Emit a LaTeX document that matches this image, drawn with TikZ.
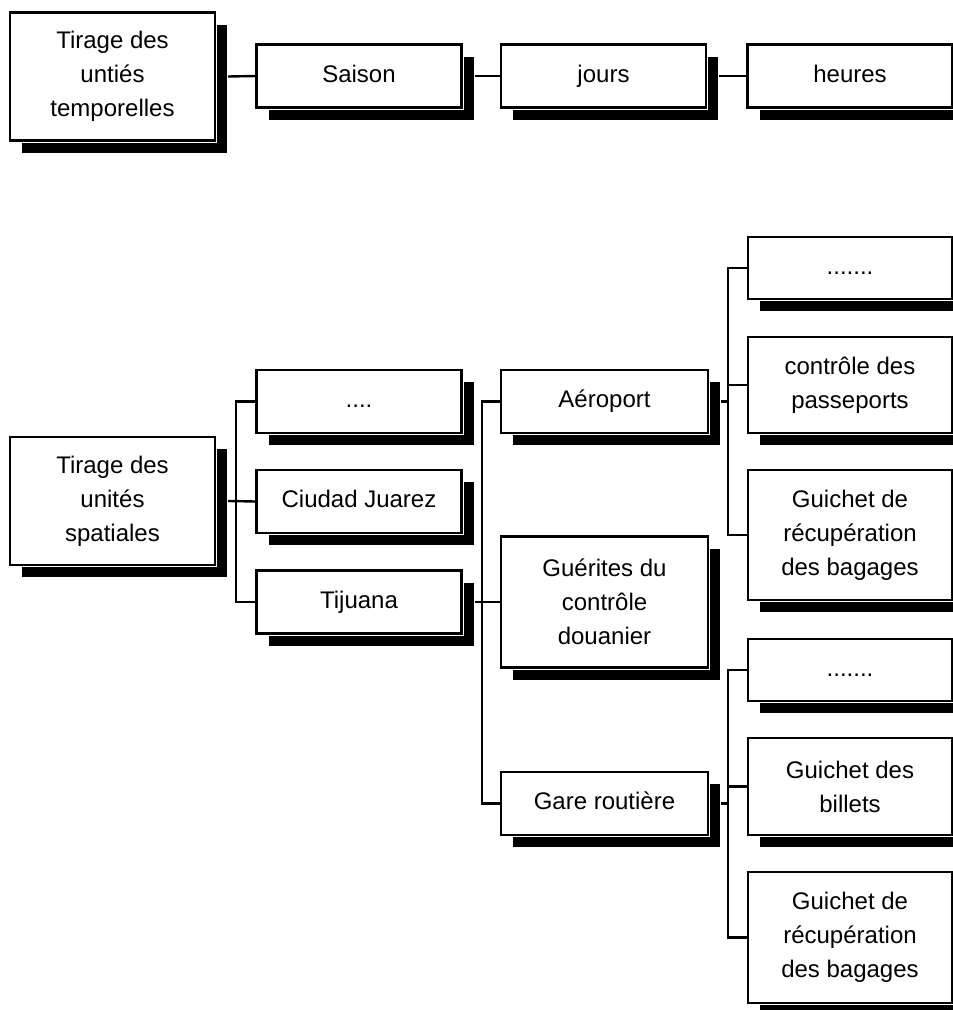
\documentclass[tikz,border=0pt]{standalone}
\usepackage{fontspec}
\setmainfont{Liberation Sans}
\usetikzlibrary{shadows}
\begin{document}
\begin{tikzpicture}[x=1pt,y=-1pt,
  box/.style={draw=black, line width=2.4pt, fill=white, inner sep=0pt, align=center,
    minimum width=205pt, minimum height=63pt,
    font=\fontsize{24}{34}\selectfont,
    general shadow={fill=black, shadow xshift=12pt, shadow yshift=-12pt},
    preaction={draw=white, line width=4.6pt}},
  single/.style={text height=17pt, text depth=5pt},
  link/.style={draw=black, line width=2.4pt}]
\useasboundingbox (0,0) rectangle (953,1010);
% top row
\node[box, minimum height=128pt] (T) at (112.5,76.5) {Tirage des\\untiés\\temporelles};
\node[box, single] (saison) at (359,76) {Saison};
\node[box, single] (jours) at (603.5,76) {jours};
\node[box, single] (heures) at (850,76) {heures};
% spatial tree
\node[box, minimum height=128pt] (S) at (112.5,501) {Tirage des\\unités\\spatiales};
\node[box, single] (d1) at (359,401.5) {....};
\node[box, single] (ciudad) at (359,501.5) {Ciudad Juarez};
\node[box, single] (tij) at (359,602) {Tijuana};
\node[box, single, minimum width=207pt] (aero) at (604.5,401.5) {Aéroport};
\node[box, minimum width=207pt, minimum height=131pt] (guer) at (604.5,602) {Guérites du\\contrôle\\douanier};
\node[box, single, minimum width=207pt] (gare) at (604.5,803.5) {Gare routière};
\node[box, single, minimum width=204pt, minimum height=62pt] (dA) at (850,268) {.......};
\node[box, minimum width=204pt, minimum height=96pt] (pass) at (850,385) {contrôle des\\passeports};
\node[box, minimum width=204pt, minimum height=130pt] (gA) at (850,535) {Guichet de\\récupération\\des bagages};
\node[box, single, minimum width=204pt, minimum height=62pt] (dB) at (850,670) {.......};
\node[box, minimum width=204pt, minimum height=97pt] (bill) at (850,786.5) {Guichet des\\billets};
\node[box, minimum width=204pt, minimum height=131pt] (gB) at (850,937.5) {Guichet de\\récupération\\des bagages};
% buses
\coordinate (bus1) at (236,0);
\coordinate (bus2) at (482,0);
\coordinate (bus3) at (728,0);
% top connectors
\draw[link] ([xshift=12pt]T.east) -- (saison.west);
\draw[link] ([xshift=12pt]saison.east) -- (jours.west);
\draw[link] ([xshift=12pt]jours.east) -- (heures.west);
% spatial connectors
\draw[link] ([xshift=12pt]S.east) -- (ciudad.west);
\draw[link] (d1.west) -- (d1.west -| bus1) |- (tij.west);
\draw[link] ([xshift=12pt]tij.east) -- (guer.west);
\draw[link] (aero.west) -- (aero.west -| bus2) |- (gare.west);
\draw[link] ([xshift=12pt]aero.east) -- (aero.east -| bus3);
\draw[link] (dA.west) -- (dA.west -| bus3) |- (gA.west);
\draw[link] (pass.west) -- (pass.west -| bus3);
\draw[link] ([xshift=12pt]gare.east) -- (gare.east -| bus3);
\draw[link] (dB.west) -- (dB.west -| bus3) |- (gB.west);
\draw[link] (bill.west) -- (bill.west -| bus3);
\end{tikzpicture}
\end{document}
